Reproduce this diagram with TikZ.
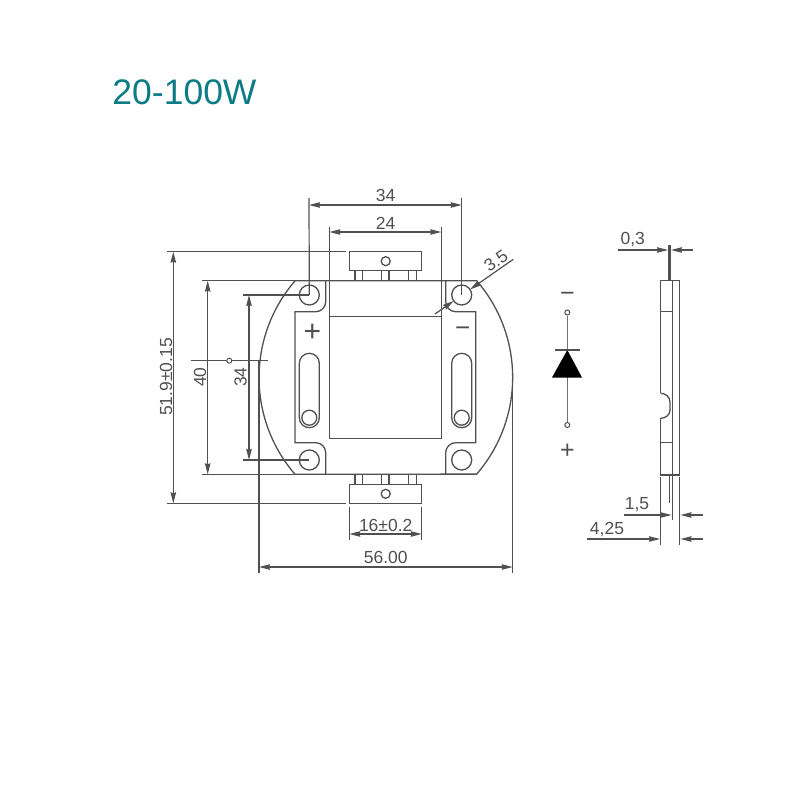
\documentclass[tikz,border=0pt]{standalone}
\usepackage{fontspec}
\setmainfont{Liberation Sans}
\usetikzlibrary{arrows.meta}
\definecolor{ink}{HTML}{505050}
\definecolor{titleteal}{HTML}{0C7B85}
\tikzset{>={Stealth[length=11pt,width=5.5pt,inset=1pt]}}
\tikzset{ln/.style={draw=ink,line width=1.3pt}}
\tikzset{dimln/.style={draw=ink,line width=1.2pt}}
\tikzset{lab/.style={text=ink,inner sep=0pt,font=\fontsize{17.5}{17.5}\selectfont}}
\tikzset{sign/.style={text=ink,inner sep=0pt,font=\fontsize{30}{30}\selectfont}}
\begin{document}
\begin{tikzpicture}[x=1pt,y=-1pt]
\useasboundingbox (0,0) rectangle (800,800);

\node[text=titleteal,inner sep=0pt,font=\fontsize{35.5}{35.5}\selectfont] (title) at (184.5,92) {20-100W};

% holes and slots
\coordinate (hTL) at (309.3,295);
\coordinate (hTR) at (461.7,295);
\coordinate (hBL) at (309.3,460);
\coordinate (hBR) at (461.7,460);
\coordinate (sL) at (309.3,417.7);
\coordinate (sR) at (461.7,417.7);

% board
\draw[ln] (295,280.7) -- (476.7,280.7) arc[start angle=-40.8,end angle=40.8,radius=148]
  -- (295,474.3) arc[start angle=139.2,end angle=220.8,radius=148];
\draw[ln,rounded corners=10pt] (325.7,280.7) -- (325.7,311.7) [sharp corners] -- (295,311.7) -- (295,442.7)
  [rounded corners=10pt] -- (325.7,442.7) [sharp corners] -- (325.7,474.3);
\draw[ln,rounded corners=10pt] (445.7,280.7) -- (445.7,311.7) [sharp corners] -- (475.7,311.7) -- (475.7,442.7)
  [rounded corners=10pt] -- (445.7,442.7) [sharp corners] -- (445.7,474.3);
\draw[ln] (329.3,316.7) rectangle (441.3,438.7);

\foreach \h in {hTL,hTR,hBL,hBR} {
  \draw[ln] (\h) circle (10);
}
\foreach \s in {sL,sR} {
  \draw[ln] ([shift={(-10,0)}]\s) -- ++(0,-54.4) arc[start angle=180,end angle=360,radius=10]
    -- ([shift={(10,0)}]\s) arc[start angle=0,end angle=180,radius=10];
  \draw[ln] (\s) circle (7.5);
}

\node[sign] (plusL) at (312.3,332.5) {+};
\node[sign,font=\fontsize{26}{26}\selectfont] (minusR) at (462.7,331.5) {−};

% connectors
\foreach \y/\p/\q in {251.7/271/280.7,484.3/474.3/484.3} {
  \draw[ln] (349.3,\y) rectangle (421.7,\y+19);
  \draw[ln] (385.7,\y+9.5) circle (4.5);
  \foreach \x in {355,362.7,381.3,389,408.3,416.7} {
    \draw[ln] (\x,\p) -- (\x,\q);
  }
}

% top dimensions
\draw[dimln] (hTL) -- (309,198);
\draw[dimln] (hTR) -- (461.7,198);
\draw[dimln,<->] (309,205) -- (461.7,205);
\node[lab] (d34t) at (385.5,195.5) {34};
\draw[dimln] (329.3,316.7) -- (329.3,227);
\draw[dimln] (441.3,316.7) -- (441.3,227);
\draw[dimln,<->] (329.3,232) -- (441.3,232);
\node[lab] (d24) at (385.5,223) {24};

% hole size
\draw[dimln,->] (435,314) -- (453.5,301);
\draw[dimln,->] (513.3,259.3) -- (470,289.5);
\node[lab,rotate=35] (d35) at (496,261) {3.5};

% left dimensions
\draw[dimln] (167,251.7) -- (346,251.7);
\draw[dimln] (167,503.3) -- (346,503.3);
\draw[dimln] (202,280.7) -- (295,280.7);
\draw[dimln] (202,474.3) -- (295,474.3);
\draw[dimln] (243,295) -- (hTL);
\draw[dimln] (243,460) -- (hBL);
\draw[dimln,<->] (173.3,251.7) -- (173.3,503.3);
\draw[dimln,<->] (207.7,280.7) -- (207.7,474.3);
\draw[dimln,<->] (249,295) -- (249,460);
\node[lab,rotate=90] (d519) at (166,377) {51.9±0.15};
\node[lab,rotate=90] (d40) at (200,377) {40};
\node[lab,rotate=90] (d34l) at (240.7,377) {34};
\draw[dimln] (190.7,360.7) -- (268,360.7);
\node[circle,draw=ink,line width=1pt,inner sep=0pt,minimum size=5pt,fill=white] (cmark) at (229.3,360.7) {};

% bottom dimensions
\draw[dimln] (259,360.7) -- (259,573);
\draw[dimln] (512.7,377) -- (512.7,573);
\draw[dimln,<->] (259,567) -- (512.7,567);
\node[lab] (d56) at (385.7,557.7) {56.00};
\draw[dimln] (349.3,506.7) -- (349.3,540);
\draw[dimln] (421.7,506.7) -- (421.7,540);
\draw[dimln,<->] (349.3,534) -- (421.7,534);
\node[lab] (d16) at (385.7,525) {16±0.2};

% diode
\node[sign,font=\fontsize{25}{25}\selectfont] (minusD) at (567.3,297) {−};
\node[sign,font=\fontsize{25}{25}\selectfont] (plusD) at (567.3,451) {+};
\node[circle,draw=ink,line width=1pt,inner sep=0pt,minimum size=5pt] (dTop) at (567.3,312.5) {};
\node[circle,draw=ink,line width=1pt,inner sep=0pt,minimum size=5pt] (dBot) at (567.3,425) {};
\draw[ink!80,line width=1.6pt] (dTop) -- (dBot);
\fill[black] (567.3,350) -- (582,377.5) -- (552,377.5) -- cycle;
\draw[ln] (555,350) -- (579.5,350);

% side view
\draw[ln] (660.7,280.7) rectangle (679.3,475);
\draw[ln] (672.7,280.7) -- (672.7,475);
\draw[ln] (660.7,311.7) -- (672.7,311.7);
\draw[ln] (660.7,442.7) -- (672.7,442.7);
\fill[white] (659.5,393.3) rectangle (662,418.3);
\draw[ln] (660.7,393.3) to[out=0,in=90] (670,402) -- (670,410) to[out=-90,in=0] (660.7,418.3);
\draw[ink,line width=2.4pt] (669.3,245) -- (669.3,280.7);
\draw[ln] (669.3,475) -- (669.3,503);
\draw[ln] (672.7,475) -- (672.7,520);
\draw[dimln] (660.7,476.7) -- (660.7,545);
\draw[dimln] (679.3,476.7) -- (679.3,545);

\draw[dimln] (618.3,250) -- (657,250);
\draw[dimln,->] (657,250) -- (668,250);
\draw[dimln] (692.7,250) -- (682,250);
\draw[dimln,->] (682,250) -- (671,250);
\node[lab] (d03) at (632.7,240) {0,3};

\draw[dimln] (624,515) -- (661,515);
\draw[dimln,->] (661,515) -- (671.5,515);
\draw[dimln] (702.7,515) -- (691,515);
\draw[dimln,->] (691,515) -- (680.5,515);
\node[lab] (d15) at (637,505) {1,5};

\draw[dimln] (586.7,539) -- (649,539);
\draw[dimln,->] (649,539) -- (660,539);
\draw[dimln] (702.7,539) -- (691,539);
\draw[dimln,->] (691,539) -- (680.5,539);
\node[lab] (d425) at (607,530) {4,25};

\end{tikzpicture}
\end{document}
